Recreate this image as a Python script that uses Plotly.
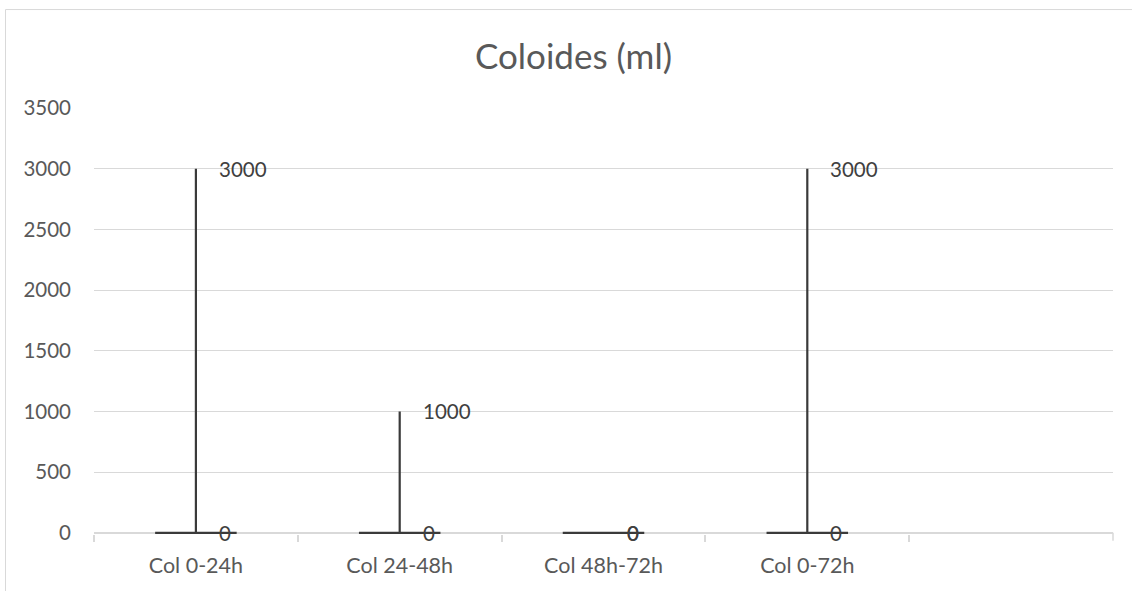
import plotly.graph_objects as go

categories = ["Col 0-24h", "Col 24-48h", "Col 48h-72h", "Col 0-72h"]
open_vals = [0, 0, 0, 0]
high_vals = [3000, 1000, 0, 3000]
low_vals = [0, 0, 0, 0]
close_vals = [0, 0, 0, 0]
y_ticks = [0, 500, 1000, 1500, 2000, 2500, 3000, 3500]
title_text = "Coloides (ml)"

FONT = "Lato"
W, H = 1132, 591
Y_MIN, Y_MAX = -10, 3500
L, R, T = 94, 19, 108
ZERO_PX = 533
scale = (ZERO_PX - T) / Y_MAX
ph = (Y_MAX - Y_MIN) * scale
B = H - T - ph
pw = W - L - R

line_style = dict(color="#3a3a3a", width=2.2)
fig = go.Figure(go.Ohlc(
    x=categories, open=open_vals, high=high_vals, low=low_vals, close=close_vals,
    increasing=dict(line=line_style), decreasing=dict(line=line_style),
    tickwidth=0.2, showlegend=False, hoverinfo="skip",
))

annotations = []
for c, h, cl in zip(categories, high_vals, close_vals):
    for v in (h, cl):
        annotations.append(dict(
            x=c, y=v, xref="x", yref="y", text=str(v), showarrow=False,
            xanchor="left", yanchor="middle", xshift=21,
            font=dict(family=FONT, size=20.5, color="#404040"),
        ))

def px_x(p):
    return (p - L) / pw

def px_y(p):
    return (H - B - p) / ph

shapes = [
    dict(type="line", xref="paper", yref="paper", x0=px_x(5.5), x1=px_x(5.5),
         y0=px_y(H + 5), y1=px_y(9.5), line=dict(color="#d9d9d9", width=1)),
    dict(type="line", xref="paper", yref="paper", x0=px_x(5.5), x1=px_x(W + 5),
         y0=px_y(9.5), y1=px_y(9.5), line=dict(color="#d9d9d9", width=1)),
    dict(type="line", xref="paper", yref="paper", x0=1, x1=1,
         y0=px_y(ZERO_PX), y1=px_y(ZERO_PX + 8), line=dict(color="#d9d9d9", width=1.5)),
]

fig.update_layout(
    width=W, height=H,
    margin=dict(l=L, r=R, t=T, b=B),
    paper_bgcolor="white", plot_bgcolor="white",
    font=dict(family=FONT, color="#595959"),
    title=dict(text=title_text, x=573.5 / W, xref="container", xanchor="center",
               y=1 - 57 / H, yref="container", yanchor="middle",
               font=dict(family=FONT, size=35, color="#595959")),
    annotations=annotations,
    shapes=shapes,
    xaxis=dict(
        type="category", categoryorder="array", categoryarray=categories,
        range=[-0.5, 4.5], rangeslider=dict(visible=False),
        showgrid=False, showline=False,
        ticks="outside", tickson="boundaries", ticklen=7, tickcolor="#d9d9d9",
        tickwidth=1.5, tickfont=dict(family=FONT, size=21.5, color="#595959"),
        ticklabelstandoff=16, zeroline=False, fixedrange=True,
    ),
    yaxis=dict(
        range=[Y_MIN, Y_MAX], tickvals=y_ticks, showgrid=True, gridcolor="#d9d9d9",
        gridwidth=1, showline=False, zeroline=True, zerolinecolor="#d9d9d9",
        zerolinewidth=1.5, ticks="",
        tickfont=dict(family=FONT, size=20.5, color="#595959"),
        ticklabelstandoff=22, fixedrange=True,
    ),
)

fig.write_html("out.html")
